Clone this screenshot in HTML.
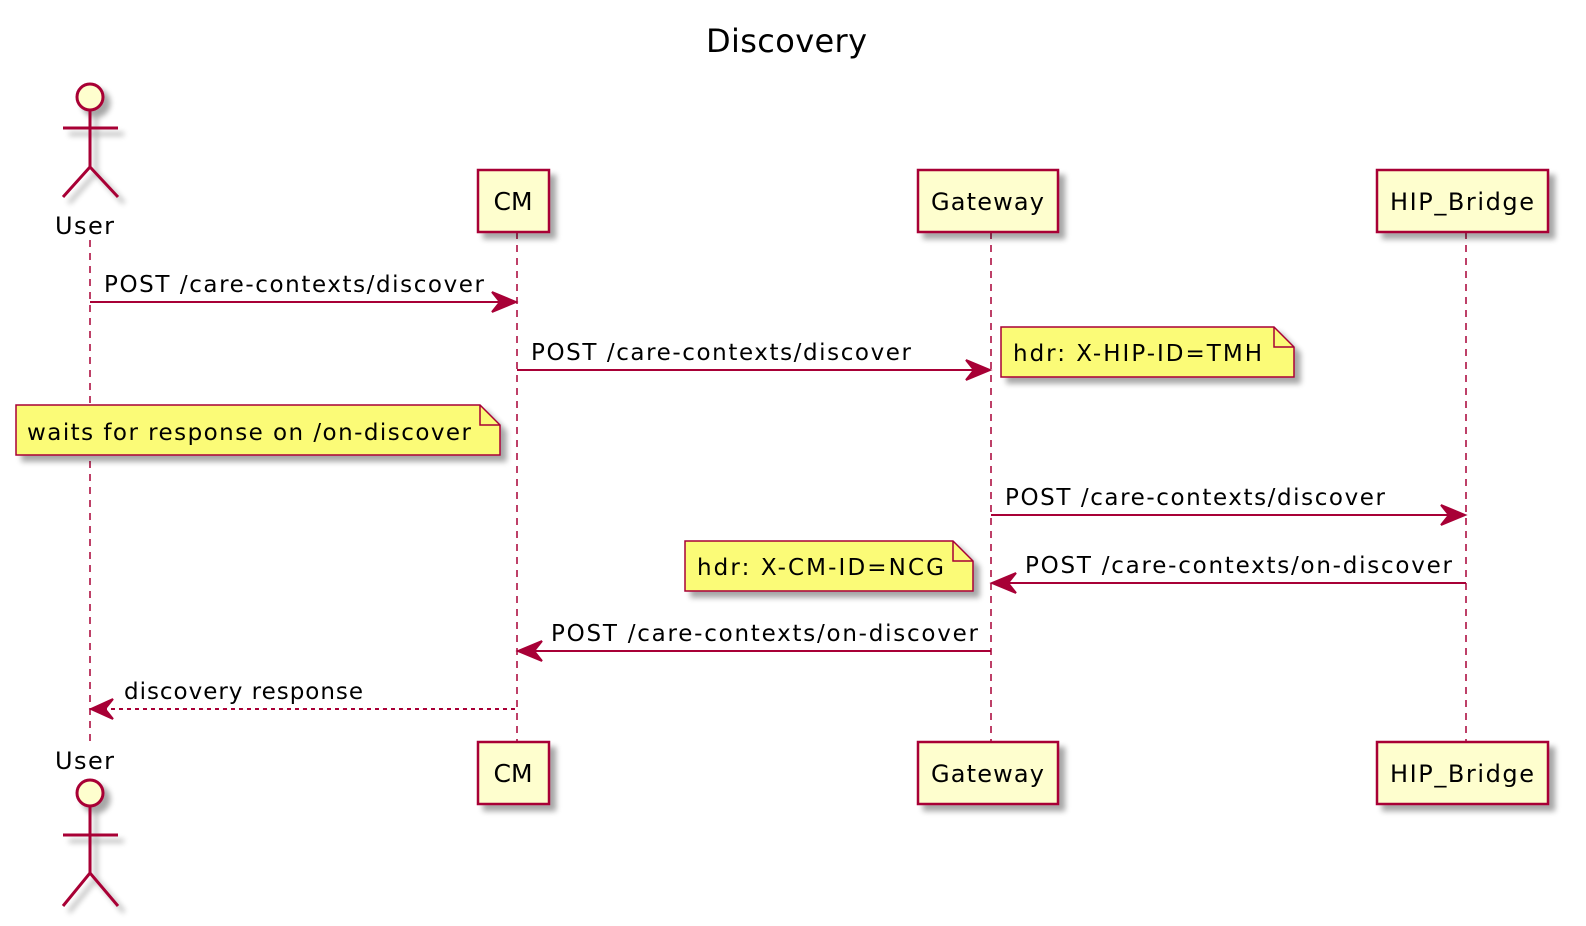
<!DOCTYPE html>
<html><head><meta charset="utf-8"><style>
html,body{margin:0;padding:0;overflow:hidden;background:#fff;width:1586px;height:926px}
svg{display:block}
text{font-family:"DejaVu Sans","Liberation Sans",sans-serif;fill:#000}
</style></head><body>
<svg width="1586" height="926" viewBox="0 0 1586 926">
<defs>
<filter id="sh" x="-20%" y="-20%" width="150%" height="160%"><feGaussianBlur in="SourceAlpha" stdDeviation="3"/><feOffset dx="6" dy="6"/><feComponentTransfer><feFuncA type="linear" slope="0.35"/></feComponentTransfer><feMerge><feMergeNode/><feMergeNode in="SourceGraphic"/></feMerge></filter>
</defs>
<text x="706" y="52" font-size="32" textLength="161" lengthAdjust="spacing">Discovery</text>
<g stroke="#A80036" stroke-width="1.5" stroke-dasharray="7,6">
<line x1="90" y1="240" x2="90" y2="745"/>
<line x1="517" y1="232" x2="517" y2="742"/>
<line x1="991" y1="232" x2="991" y2="742"/>
<line x1="1466" y1="232" x2="1466" y2="742"/>
</g>
<g stroke="#A80036" stroke-width="3" fill="none" filter="url(#sh)">
<circle cx="90" cy="97" r="13" fill="#FEFECE"/>
<path d="M90 110V167M63 128H118M63 197L90 167L118 197"/>
</g>
<text x="55" y="234" font-size="24" textLength="59" lengthAdjust="spacing">User</text>
<text x="55" y="769" font-size="24" textLength="59" lengthAdjust="spacing">User</text>
<g stroke="#A80036" stroke-width="3" fill="none" filter="url(#sh)">
<circle cx="90" cy="793" r="13" fill="#FEFECE"/>
<path d="M90 806V873M63 835H118M63 906L90 873L118 906"/>
</g>
<g fill="#FEFECE" stroke="#A80036" stroke-width="2.5" filter="url(#sh)">
<rect x="478" y="170" width="71" height="62"/>
<rect x="918" y="170" width="140" height="62"/>
<rect x="1377" y="170" width="171" height="62"/>
<rect x="478" y="742" width="71" height="62"/>
<rect x="918" y="742" width="140" height="62"/>
<rect x="1377" y="742" width="171" height="62"/>
</g>
<g font-size="24">
<text x="513" y="210" font-size="25" text-anchor="middle">CM</text><text x="931" y="210" textLength="113" lengthAdjust="spacing">Gateway</text><text x="1390" y="210" textLength="144" lengthAdjust="spacing">HIP_Bridge</text>
<text x="513" y="782" font-size="25" text-anchor="middle">CM</text><text x="931" y="782" textLength="113" lengthAdjust="spacing">Gateway</text><text x="1390" y="782" textLength="144" lengthAdjust="spacing">HIP_Bridge</text>
</g>
<g stroke="#A80036" stroke-width="2" fill="#A80036">
<g><line x1="90" y1="302" x2="512" y2="302"/><path d="M516 302L492 292L500 302L492 312Z"/></g>
<g><line x1="517" y1="370" x2="986" y2="370"/><path d="M990 370L966 360L974 370L966 380Z"/></g>
<g><line x1="991" y1="515" x2="1461" y2="515"/><path d="M1465 515L1441 505L1449 515L1441 525Z"/></g>
<g><line x1="996" y1="583" x2="1466" y2="583"/><path d="M992 583L1016 573L1008 583L1016 593Z"/></g>
<g><line x1="522" y1="651" x2="991" y2="651"/><path d="M518 651L542 641L534 651L542 661Z"/></g>
<g><line x1="95" y1="709" x2="517" y2="709" stroke-dasharray="4,4"/><path d="M91 709L113 699L105 709L113 719Z"/></g>
</g>
<g font-size="23">
<text x="104" y="292" textLength="380" lengthAdjust="spacing">POST /care-contexts/discover</text>
<text x="531" y="360" textLength="380" lengthAdjust="spacing">POST /care-contexts/discover</text>
<text x="1005" y="505" textLength="380" lengthAdjust="spacing">POST /care-contexts/discover</text>
<text x="1025" y="573" textLength="427" lengthAdjust="spacing">POST /care-contexts/on-discover</text>
<text x="551" y="641" textLength="427" lengthAdjust="spacing">POST /care-contexts/on-discover</text>
<text x="124" y="699" textLength="239" lengthAdjust="spacing">discovery response</text>
</g>
<g fill="#FBFB77" stroke="#A80036" stroke-width="1.5" filter="url(#sh)">
<path d="M1001 327H1274L1294 347V377H1001Z"/>
<path d="M16 405H480L500 425V455H16Z"/>
<path d="M685 541H953L973 561V591H685Z"/>
</g>
<g fill="none" stroke="#A80036" stroke-width="1.5">
<path d="M1274 327V347H1294M480 405V425H500M953 541V561H973"/>
</g>
<g font-size="23">
<text x="1013" y="361" textLength="249" lengthAdjust="spacing">hdr: X-HIP-ID=TMH</text>
<text x="27" y="440" textLength="444" lengthAdjust="spacing">waits for response on /on-discover</text>
<text x="697" y="575" textLength="247" lengthAdjust="spacing">hdr: X-CM-ID=NCG</text>
</g>
</svg>
</body></html>
